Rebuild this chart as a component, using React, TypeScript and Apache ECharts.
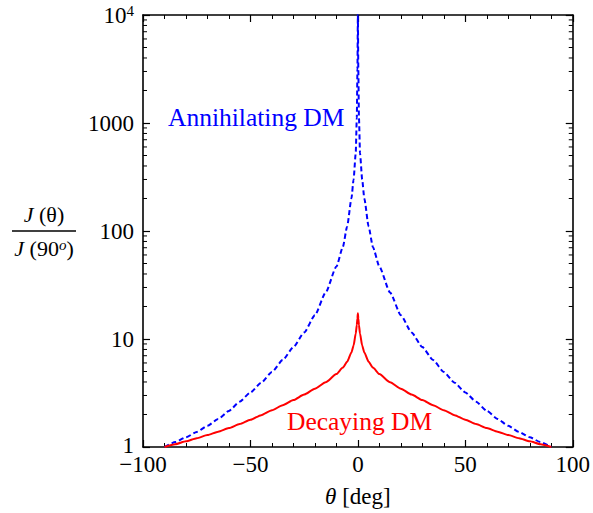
import React, { useEffect, useRef } from "react";
import * as echarts from "echarts";

const thetaDeg = [
  -90, -85, -80, -75, -70, -65, -60, -55, -50, -45, -40, -35, -30, -25, -20, -15, -10,
  -7, -5, -3, -2, -1, -0.5, -0.2, 0, 0.2, 0.5, 1, 2, 3, 5, 7,
  10, 15, 20, 25, 30, 35, 40, 45, 50, 55, 60, 65, 70, 75, 80, 85, 90,
];

const annihilating = [
  1, 1.11, 1.23, 1.38, 1.57, 1.82, 2.16, 2.63, 3.2, 3.94, 4.95, 6.38, 8.41, 11.5, 16.6, 26.9, 46.8,
  71, 110, 200, 300, 525, 1120, 3160, 10000, 3160, 1120, 525, 300, 200, 110, 71,
  46.8, 26.9, 16.6, 11.5, 8.41, 6.38, 4.95, 3.94, 3.2, 2.63, 2.16, 1.82, 1.57, 1.38, 1.23, 1.11, 1,
];

const decaying = [
  1, 1.062, 1.13, 1.208, 1.291, 1.387, 1.496, 1.629, 1.786, 1.972, 2.188, 2.438, 2.723, 3.055, 3.467, 3.981, 4.732,
  5.433, 6.166, 7.499, 8.71, 11.22, 13.49, 15.49, 17.3, 15.49, 13.49, 11.22, 8.71, 7.499, 6.166, 5.433,
  4.732, 3.981, 3.467, 3.055, 2.723, 2.438, 2.188, 1.972, 1.786, 1.629, 1.496, 1.387, 1.291, 1.208, 1.13, 1.062, 1,
];

const yMinorTicks = [
  2, 3, 4, 5, 6, 7, 8, 9,
  20, 30, 40, 50, 60, 70, 80, 90,
  200, 300, 400, 500, 600, 700, 800, 900,
  2000, 3000, 4000, 5000, 6000, 7000, 8000, 9000,
];

const xMin = -100;
const xMax = 100;
const yMin = 1;
const yMax = 10000;

const SERIF = "'Liberation Serif', 'DejaVu Serif', serif";

export default function App() {
  const ref = useRef<HTMLDivElement>(null);
  useEffect(() => {
    if (!ref.current) return;
    const chart = echarts.init(ref.current, undefined, { renderer: "svg" });
    const blueData = thetaDeg.map((t, i) => [t, annihilating[i]]);
    const redData = thetaDeg.map((t, i) => [t, decaying[i]]);
    const axisLine = { show: true, onZero: false, lineStyle: { color: "#000", width: 1.6 } };
    const xCommon = {
      type: "value" as const,
      min: xMin,
      max: xMax,
      interval: 50,
      splitLine: { show: false },
      axisLine,
      axisTick: { show: true, inside: true, length: 7, lineStyle: { color: "#000", width: 1.2 } },
      minorTick: { show: true, splitNumber: 5, length: 4, lineStyle: { color: "#000", width: 1 } },
    };
    const yCommon = {
      type: "log" as const,
      logBase: 10,
      min: yMin,
      max: yMax,
      splitNumber: 4,
      splitLine: { show: false },
      axisLine,
      axisTick: { show: true, inside: true, length: 7, lineStyle: { color: "#000", width: 1.2 } },
    };
    chart.setOption({
      animation: false,
      backgroundColor: "#fff",
      grid: { left: 143, right: 19, top: 15, bottom: 66, containLabel: false },
      xAxis: [
        {
          ...xCommon,
          position: "bottom",
          name: "{i|θ} [deg]",
          nameLocation: "middle",
          nameGap: 38,
          nameTextStyle: {
            fontFamily: SERIF,
            fontSize: 23,
            color: "#000",
            rich: { i: { fontStyle: "italic", fontFamily: SERIF, fontSize: 23, color: "#000" } },
          },
          axisLabel: {
            show: true,
            margin: 10,
            fontFamily: SERIF,
            fontSize: 23,
            lineHeight: 14,
            color: "#000",
            formatter: (v: number) => (v < 0 ? "\u2212" + Math.abs(v) : String(v)),
          },
        },
        { ...xCommon, position: "top", axisLabel: { show: false } },
      ],
      yAxis: [
        {
          ...yCommon,
          position: "left",
          axisLabel: {
            show: true,
            margin: 9,
            fontFamily: SERIF,
            fontSize: 23,
            lineHeight: 14,
            color: "#000",
            formatter: (v: number) => (v >= 10000 ? "{b|10}{s|4}" : v <= 1 ? "{one|1}" : String(v)),
            rich: {
              b: { fontFamily: SERIF, fontSize: 23, lineHeight: 23, color: "#000", verticalAlign: "bottom" },
              s: {
                fontFamily: SERIF,
                fontSize: 15,
                lineHeight: 15,
                color: "#000",
                verticalAlign: "top",
                padding: [0, 0, 8, 0],
              },
              one: { fontFamily: SERIF, fontSize: 23, lineHeight: 12, color: "#000", padding: [0, 0, 4, 0] },
            },
          },
        },
        { ...yCommon, position: "right", axisLabel: { show: false } },
      ],
      series: [
        {
          type: "custom",
          xAxisIndex: 0,
          yAxisIndex: 0,
          silent: true,
          encode: { x: 0, y: 1 },
          data: yMinorTicks.map((v) => [xMin, v]),
          renderItem: (_params: any, api: any) => {
            const v = api.value(1);
            const pL = api.coord([xMin, v]);
            const pR = api.coord([xMax, v]);
            const style = { stroke: "#000", lineWidth: 1 };
            return {
              type: "group",
              children: [
                { type: "line", shape: { x1: pL[0], y1: pL[1], x2: pL[0] + 4, y2: pL[1] }, style },
                { type: "line", shape: { x1: pR[0], y1: pR[1], x2: pR[0] - 4, y2: pR[1] }, style },
              ],
            };
          },
          z: 5,
        },
        {
          type: "line",
          name: "Annihilating DM",
          data: blueData,
          showSymbol: false,
          symbol: "none",
          smooth: 0.2,
          smoothMonotone: "x",
          lineStyle: { color: "#0000ff", width: 2, type: [5, 3] },
          z: 3,
        },
        {
          type: "line",
          name: "Decaying DM",
          data: redData,
          showSymbol: false,
          symbol: "none",
          smooth: 0.2,
          smoothMonotone: "x",
          lineStyle: { color: "#ff0000", width: 2, type: "solid" },
          z: 4,
        },
      ],
      graphic: [
        {
          type: "text",
          left: 168,
          top: 104,
          style: { text: "Annihilating DM", fontFamily: SERIF, fontSize: 25.5, fill: "#0000ff" },
        },
        {
          type: "text",
          left: 287,
          top: 408,
          style: { text: "Decaying DM", fontFamily: SERIF, fontSize: 25.5, fill: "#ff0000" },
        },
        {
          type: "text",
          x: 44,
          y: 225,
          style: {
            text: "{j|J} (θ)",
            fontFamily: SERIF,
            fontSize: 22,
            fill: "#000",
            align: "center",
            verticalAlign: "bottom",
            rich: { j: { fontStyle: "italic", fontFamily: SERIF, fontSize: 22, fill: "#000" } },
          },
        },
        {
          type: "line",
          shape: { x1: 12, y1: 231, x2: 76, y2: 231 },
          style: { stroke: "#000", lineWidth: 1.3 },
        },
        {
          type: "text",
          x: 44,
          y: 237,
          style: {
            text: "{j|J} (90{s|o})",
            fontFamily: SERIF,
            fontSize: 22,
            fill: "#000",
            align: "center",
            verticalAlign: "top",
            rich: {
              j: { fontStyle: "italic", fontFamily: SERIF, fontSize: 22, fill: "#000" },
              s: {
                fontStyle: "italic",
                fontFamily: SERIF,
                fontSize: 15,
                fill: "#000",
                verticalAlign: "top",
                padding: [0, 0, 8, 0],
              },
            },
          },
        },
      ],
    });
    return () => chart.dispose();
  }, []);
  return (
    <div
      ref={ref}
      style={{ position: "fixed", left: 0, top: 0, width: 593, height: 513, background: "#fff" }}
    />
  );
}
